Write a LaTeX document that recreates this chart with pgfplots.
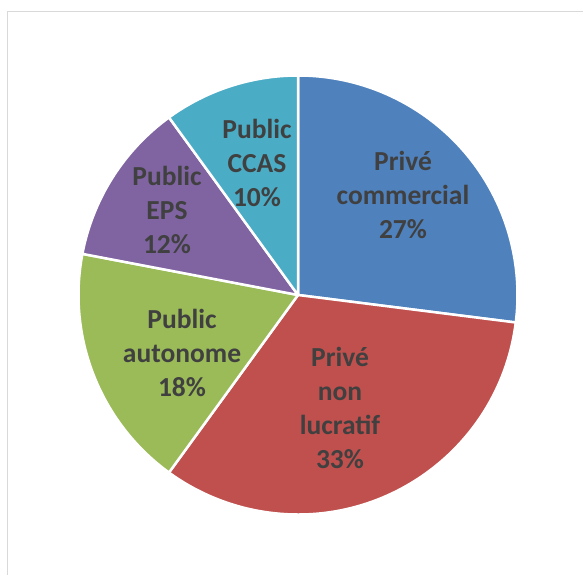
\documentclass[border=0pt]{standalone}
\usepackage{pgfplots}
\usepackage{pgfplotstable}
\usepackage{fontspec}
\setmainfont{Carlito}
\pgfplotsset{compat=1.18}

\definecolor{pblue}{HTML}{4F81BD}
\definecolor{pred}{HTML}{C0504D}
\definecolor{pgreen}{HTML}{9BBB59}
\definecolor{ppurple}{HTML}{8064A2}
\definecolor{paqua}{HTML}{4BACC6}
\definecolor{lbltxt}{HTML}{404040}
\definecolor{framegray}{HTML}{D9D9D9}

\tikzset{lbl/.style={text=lbltxt, align=center, font=\fontsize{27.5bp}{34bp}\selectfont\bfseries, inner sep=0pt}}

% share of each category, in percent, clockwise from the top
\pgfplotstableread{
slice value
commercial 27
nonlucratif 33
autonome 18
eps 12
ccas 10
}\piedata

% one slice: row index, colour
\newcommand{\slice}[2]{%
  \edef\tmpslice{\noexpand\filldraw[fill=#2, draw=white, line width=2.5bp, line join=round]
    (axis cs:298,280) -- ([shift={(\csname pa#1\endcsname:219.5bp)}]axis cs:298,280)
    arc[start angle=\csname pa#1\endcsname, end angle=\csname pb#1\endcsname, radius=219.5bp] -- cycle;}%
  \tmpslice}

\begin{document}
\begin{tikzpicture}
\path[use as bounding box] (0,0) rectangle (583bp,575bp);

\xdef\cum{90}
\pgfplotstableforeachcolumnelement{value}\of\piedata\as\v{%
  \expandafter\xdef\csname pa\pgfplotstablerow\endcsname{\cum}%
  \pgfmathparse{\cum-3.6*\v}\xdef\cum{\pgfmathresult}%
  \expandafter\xdef\csname pb\pgfplotstablerow\endcsname{\cum}}

\begin{axis}[
  at={(0,0)}, anchor=south west,
  scale only axis, width=583bp, height=575bp,
  xmin=0, xmax=583, ymin=0, ymax=575,
  hide axis, clip=false
]
\draw[framegray, line width=1.5bp] (axis cs:7.5,0) -- (axis cs:7.5,563.5) -- (axis cs:583,563.5);

\slice{0}{pblue}
\slice{1}{pred}
\slice{2}{pgreen}
\slice{3}{ppurple}
\slice{4}{paqua}

\node[lbl] at (axis cs:403,380) {Privé\\commercial\\27\%};
\node[lbl] at (axis cs:340,167) {Privé\\non\\lucratif\\33\%};
\node[lbl] at (axis cs:182,222) {Public\\autonome\\18\%};
\node[lbl] at (axis cs:167,365) {Public\\EPS\\12\%};
\node[lbl] at (axis cs:257,412) {Public\\CCAS\\10\%};
\end{axis}
\end{tikzpicture}
\end{document}
